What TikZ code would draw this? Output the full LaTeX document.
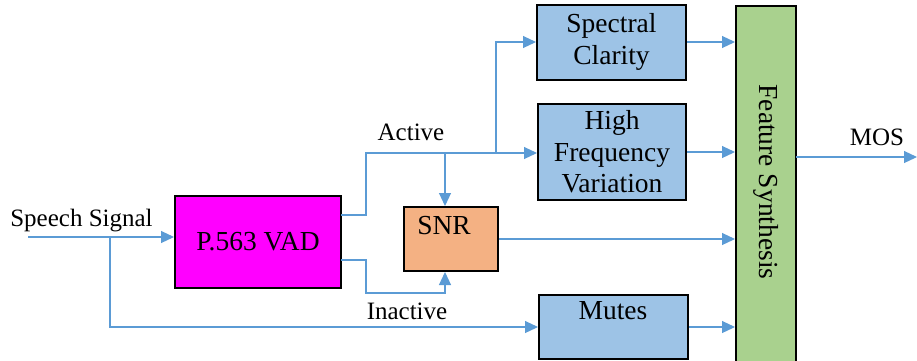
\documentclass[tikz,border=0pt]{standalone}
\usepackage{fontspec}
\setmainfont{Liberation Serif}
\usetikzlibrary{arrows.meta}
\definecolor{linec}{HTML}{5B9BD5}
\definecolor{bluef}{HTML}{9DC3E6}
\definecolor{orangef}{HTML}{F4B183}
\definecolor{greenf}{HTML}{A9D18E}
\definecolor{magf}{HTML}{FF00FF}
\begin{document}
\begin{tikzpicture}[x=1pt,y=-1pt,
  box/.style={draw=black, line width=2pt, inner sep=0pt, align=center, font=\fontsize{27.5}{31.5}\selectfont},
  conn/.style={draw=linec, line width=1.1pt},
  arr/.style={conn, -{Triangle[length=13pt,width=12pt]}},
  lbl/.style={font=\fontsize{25}{31}\selectfont, anchor=base, inner sep=0pt},
  blbl/.style={font=\fontsize{27.5}{31}\selectfont, anchor=base, inner sep=0pt}]
\useasboundingbox (0,0) rectangle (917,360);
% boxes
\node[box, fill=magf, minimum width=166pt, minimum height=92pt] (vad) at (258,242) {P.563 VAD};
\node[box, fill=orangef, minimum width=94pt, minimum height=64pt] (snr) at (451,239) {};
\node[blbl] at (444,234) {SNR};
\node[box, fill=bluef, minimum width=149pt, minimum height=75pt] (sc) at (611.5,42) {Spectral\\Clarity};
\node[box, fill=bluef, minimum width=148pt, minimum height=96pt] (hfv) at (612,152) {High\\Frequency\\Variation};
\node[box, fill=bluef, minimum width=149pt, minimum height=64pt] (mutes) at (613.5,327) {};
\node[blbl] at (613,319) {Mutes};
\node[box, fill=greenf, minimum width=60pt, minimum height=358pt] (fs) at (766,185) {};
\node[font=\fontsize{27.5}{31}\selectfont, rotate=-90, inner sep=0pt] at (766,182) {Feature Synthesis};
% coordinates
\coordinate (in) at (28,237);
\coordinate (br) at (110,237);
\coordinate (va) at (341,215);
\coordinate (ja) at (366,153);
\coordinate (jsnr) at (445,153);
\coordinate (jsc) at (496,153);
\coordinate (vb) at (341,260);
\coordinate (jb) at (366,293);
\coordinate (jb2) at (445,293);
\coordinate (fsout) at (796,157);
\coordinate (mos) at (917,157);
% connectors
\draw[arr] (in) -- (in -| vad.west);
\draw[arr] (br) |- (mutes.west);
\draw[arr] (va) -| (ja) -- (ja -| hfv.west);
\draw[arr] (jsnr) -- (jsnr |- snr.north);
\draw[arr] (jsc) |- (sc.west);
\draw[arr] (vb) -| (jb) -- (jb2) -- (jb2 |- snr.south);
\draw[arr] (snr.east) -- (snr.east -| fs.west);
\draw[arr] (sc.east) -- (sc.east -| fs.west);
\draw[arr] (hfv.east) -- (hfv.east -| fs.west);
\draw[arr] (mutes.east) -- (mutes.east -| fs.west);
\draw[arr] (fsout) -- (mos);
% labels
\node[lbl] at (81.5,226.5) {Speech Signal};
\node[lbl] at (411,140) {Active};
\node[lbl] at (407,319) {Inactive};
\node[lbl] at (877,145) {MOS};
\end{tikzpicture}
\end{document}
